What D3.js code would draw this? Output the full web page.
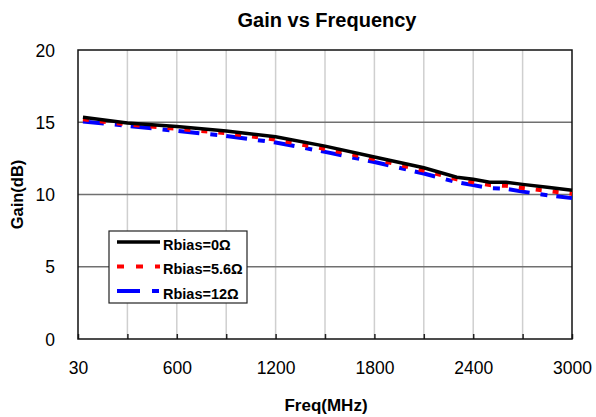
<!DOCTYPE html>
<html>
<head>
<meta charset="utf-8">
<script src="https://cdn.jsdelivr.net/npm/d3@7"></script>
<style>
  body { margin: 0; background: #fff; }
  text { font-family: "Liberation Sans", Arial, sans-serif; }
</style>
</head>
<body>
<svg id="chart"></svg>
<script>
// Chart data
const freqs = [30, 300, 600, 900, 1200, 1500, 1800, 2100, 2300, 2400, 2500, 2600, 2700, 2850, 3000];
const gain0 = [15.35, 14.95, 14.7, 14.4, 14.0, 13.35, 12.6, 11.85, 11.2, 11.05, 10.85, 10.85, 10.7, 10.5, 10.3];
const gain56 = [15.2, 14.85, 14.55, 14.25, 13.8, 13.15, 12.45, 11.65, 11.05, 10.85, 10.65, 10.6, 10.45, 10.25, 10.05];
const gain12 = [15.05, 14.75, 14.4, 14.05, 13.6, 12.95, 12.25, 11.45, 10.85, 10.65, 10.45, 10.4, 10.2, 9.95, 9.75];
const seriesNames = ["Rbias=0Ω", "Rbias=5.6Ω", "Rbias=12Ω"];
const xTickValues = [0, 600, 1200, 1800, 2400, 3000];
const xTickLabels = ["30", "600", "1200", "1800", "2400", "3000"];
const xGridValues = [300, 600, 900, 1200, 1500, 1800, 2100, 2400, 2700];
const yTickValues = [0, 5, 10, 15, 20];

const W = 596, H = 417;
const margin = { top: 50, right: 24, bottom: 78, left: 78 };
const width = W - margin.left - margin.right;
const height = H - margin.top - margin.bottom;

const svg = d3.select("#chart").attr("width", W).attr("height", H);

const x = d3.scaleLinear().domain([0, 3000]).range([0, width]);
const y = d3.scaleLinear().domain([0, 20]).range([height, 0]);

const g = svg.append("g").attr("transform", `translate(${margin.left},${margin.top})`);

// Title
svg.append("text")
  .attr("x", 327).attr("y", 27)
  .attr("text-anchor", "middle")
  .style("font-size", "20px").style("font-weight", "bold")
  .text("Gain vs Frequency");

// vertical gridlines
g.append("g").selectAll("line")
  .data(xGridValues)
  .enter().append("line")
  .attr("x1", d => x(d)).attr("x2", d => x(d))
  .attr("y1", 0).attr("y2", height)
  .attr("stroke", "#cfcfcf").attr("stroke-width", 1.5);

// horizontal gridlines
g.append("g").selectAll("line")
  .data(yTickValues.slice(1, -1))
  .enter().append("line")
  .attr("x1", 0).attr("x2", width)
  .attr("y1", d => y(d)).attr("y2", d => y(d))
  .attr("stroke", "#707070").attr("stroke-width", 1.5);

// X axis
const xAxis = g.append("g")
  .attr("transform", `translate(0,${height})`)
  .call(d3.axisBottom(x)
    .tickValues(xGridValues.concat([0, 3000]))
    .tickSizeInner(-5).tickSizeOuter(0)
    .tickFormat(d => {
      const i = xTickValues.indexOf(d);
      return i >= 0 ? xTickLabels[i] : "";
    }));
xAxis.select(".domain").remove();
xAxis.selectAll(".tick line").attr("stroke", "#222").attr("stroke-width", 1.5);
xAxis.selectAll("text")
  .attr("y", 35).attr("dy", "0")
  .style("font-size", "17.5px").attr("fill", "#000");

// Y axis
const yAxis = g.append("g")
  .call(d3.axisLeft(y).tickValues(yTickValues).tickSizeInner(0).tickSizeOuter(0).tickPadding(23));
yAxis.select(".domain").remove();
yAxis.selectAll("text").style("font-size", "17.5px").attr("fill", "#000").attr("dy", "0.35em");

// Plot frame
g.append("rect")
  .attr("width", width).attr("height", height)
  .attr("fill", "none").attr("stroke", "#111").attr("stroke-width", 1.5);

// Axis titles
svg.append("text")
  .attr("transform", `translate(23,${margin.top + height / 2}) rotate(-90)`)
  .attr("text-anchor", "middle")
  .style("font-size", "16.5px").style("font-weight", "bold")
  .text("Gain(dB)");

svg.append("text")
  .attr("x", 326).attr("y", 411)
  .attr("text-anchor", "middle")
  .style("font-size", "17px").style("font-weight", "bold")
  .text("Freq(MHz)");

// Series
const series = [
  { name: seriesNames[0], values: gain0, color: "#000000", dash: null, w: 3.5 },
  { name: seriesNames[1], values: gain56, color: "#ff0000", dash: "6,11", w: 4 },
  { name: seriesNames[2], values: gain12, color: "#0000ff", dash: "21,11,7,9", w: 4 }
];

const line = d3.line()
  .x((d, i) => x(freqs[i]))
  .y(d => y(d));

// draw blue first, black on top
series.slice().reverse().forEach(s => {
  g.append("path")
    .datum(s.values)
    .attr("d", line)
    .attr("fill", "none")
    .attr("stroke", s.color)
    .attr("stroke-width", s.w)
    .attr("stroke-dasharray", s.dash);
});

// Legend
const legend = svg.append("g").attr("transform", "translate(109,231)");
legend.append("rect")
  .attr("width", 138).attr("height", 72)
  .attr("fill", "#fff").attr("stroke", "#222").attr("stroke-width", 1.2);

const legendItems = legend.selectAll(".legend-item")
  .data(series)
  .enter().append("g")
  .attr("class", "legend-item")
  .attr("transform", (d, i) => `translate(0,${11 + i * 24.5})`);

legendItems.append("line")
  .attr("x1", 8).attr("x2", 51)
  .attr("stroke", d => d.color)
  .attr("stroke-width", d => d.w)
  .attr("stroke-dasharray", d => d.name === seriesNames[1] ? "7,12" : d.dash === null ? null : "23,12,7,12");

legendItems.append("text")
  .attr("x", 54).attr("dy", "0.55em")
  .style("font-size", "14.5px").style("font-weight", "bold")
  .text(d => d.name);
</script>
</body>
</html>
